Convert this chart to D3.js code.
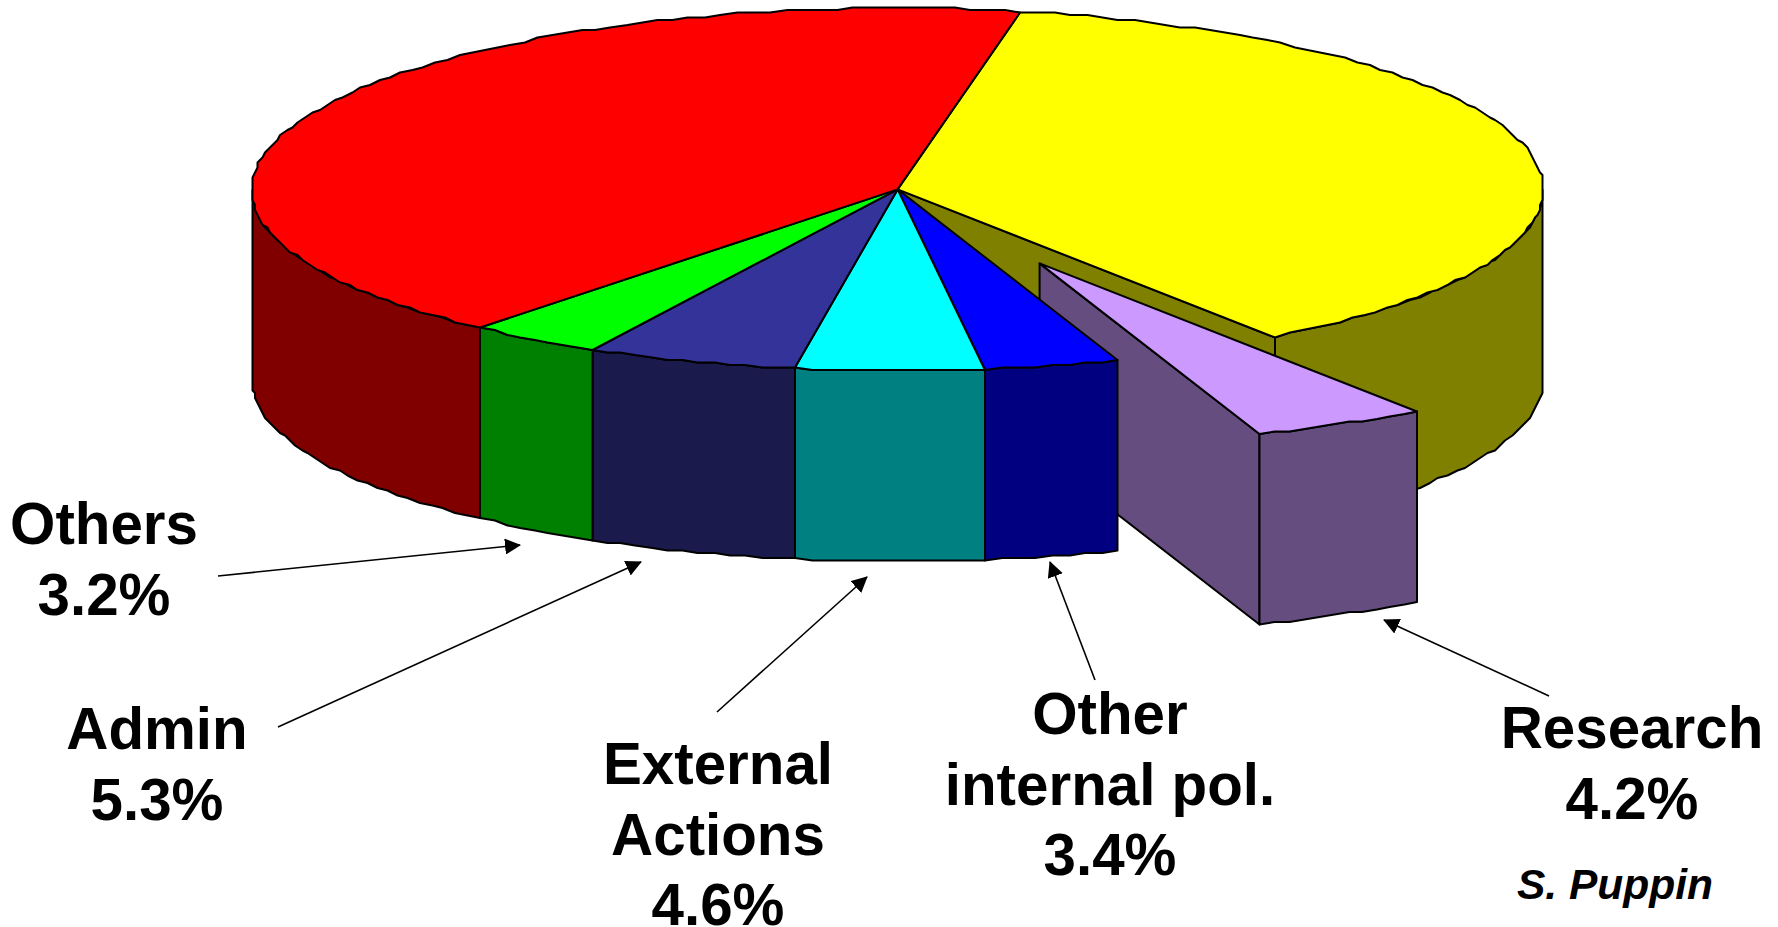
<!DOCTYPE html>
<html>
<head>
<meta charset="utf-8">
<script src="https://cdn.jsdelivr.net/npm/d3@7"></script>
<style>
	html, body { margin: 0; padding: 0; background: #fff; overflow: hidden; }
	text { font-family: "Liberation Sans", Arial, sans-serif; font-weight: bold; fill: #000; }
</style>
</head>
<body>
<div id="chart"></div>
<script>
// shares of the pie, clockwise from the red/yellow border
var categories = ['Structural', 'Research', 'Other internal pol.', 'External Actions', 'Admin', 'Others', 'Agriculture'];
var values = [37.0, 4.4, 3.4, 4.7, 5.3, 3.3, 41.9];
var topColors = ['#ffff00', '#cc99ff', '#0000ff', '#00ffff', '#333399', '#00ff00', '#ff0000'];
var sideColors = ['#808000', '#664d80', '#000080', '#008080', '#1a1a4d', '#008000', '#800000'];

var labelLines = [
	['Others', '3.2%'],
	['Admin', '5.3%'],
	['External', 'Actions', '4.6%'],
	['Other', 'internal pol.', '3.4%'],
	['Research', '4.2%']
];
var labelX = [104, 157, 718, 1110, 1632];
var labelY = [544, 749, 784, 734, 748];
var arrowFrom = [[218, 576], [278, 727], [717, 712], [1095, 680], [1549, 696]];
var arrowTo = [[520, 545], [641, 562], [867, 577], [1050, 562], [1384, 620]];

var width = 1778, height = 927;
var cx = 897.6, cy = 189.4, rx = 645.8, ry = 181.4, depth = 190.5;
var explodeX = 142, explodeY = 74;
var lineHeight = 70.5;
var startDeg = 11;
var grid = 2.5;

var rad = Math.PI / 180;
var x = d3.scaleLinear().domain([-1, 1]).range([cx - rx, cx + rx]);
var y = d3.scaleLinear().domain([-1, 1]).range([cy - ry, cy + ry]);

var pie = d3.pie().sort(null)
	.startAngle(startDeg * rad)
	.endAngle((startDeg + 360) * rad);
var slices = pie(values);

var svg = d3.select('#chart').append('svg')
	.attr('width', width)
	.attr('height', height);

svg.append('defs').append('marker')
	.attr('id', 'head')
	.attr('viewBox', '0 0 16 16')
	.attr('refX', 15)
	.attr('refY', 8)
	.attr('markerWidth', 16)
	.attr('markerHeight', 16)
	.attr('markerUnits', 'userSpaceOnUse')
	.attr('orient', 'auto')
	.append('path')
	.attr('d', 'M0,0L16,8L0,16Z')
	.attr('fill', '#000');

// rim of the disc, a little stepped like the old metafile drawing
function rim(a0, a1) {
	var n = Math.max(1, Math.round(Math.abs(a1 - a0) / (1.5 * rad)));
	return d3.range(n + 1).map(function(i) {
		var a = a0 + (a1 - a0) * i / n;
		return [
			Math.round(x(Math.sin(a)) / grid) * grid,
			Math.round(y(-Math.cos(a)) / grid) * grid
		];
	});
}

var line = d3.line().curve(d3.curveLinearClosed);

function drawPoly(g, points, fill) {
	g.append('path')
		.attr('d', line(points))
		.attr('fill', fill)
		.attr('stroke', '#000')
		.attr('stroke-width', 2)
		.attr('stroke-linejoin', 'round');
}

function drop(points) {
	return points.map(function(p) { return [p[0], p[1] + depth]; });
}

// only the part of the rim facing the viewer gets a wall
function drawWall(g, d, fill) {
	var a0 = Math.max(d.startAngle, 90 * rad);
	var a1 = Math.min(d.endAngle, 270 * rad);
	if (a1 <= a0) return;
	var top = rim(a0, a1);
	drawPoly(g, top.concat(drop(top).reverse()), fill);
}

function drawTop(g, d, fill) {
	drawPoly(g, [[cx, cy]].concat(rim(d.startAngle, d.endAngle)), fill);
}

var yellow = slices[0], research = slices[1];

// yellow first, with the cut face left open by the pulled out slice
var back = svg.append('g').attr('class', 'back');
var cutEnd = rim(yellow.endAngle, yellow.endAngle)[0];
drawWall(back, yellow, sideColors[0]);
drawPoly(back, [[cx, cy], cutEnd, [cutEnd[0], cutEnd[1] + depth], [cx, cy + depth]], sideColors[0]);
drawTop(back, yellow, topColors[0]);

// pulled out slice
var ex = svg.append('g')
	.attr('class', 'research')
	.attr('transform', 'translate(' + explodeX + ',' + explodeY + ')');
var cutStart = rim(research.endAngle, research.endAngle)[0];
drawPoly(ex, [[cx, cy], cutStart, [cutStart[0], cutStart[1] + depth], [cx, cy + depth]], sideColors[1]);
drawWall(ex, research, sideColors[1]);
drawTop(ex, research, topColors[1]);

// rest of the pie, in front of the pulled out slice
var front = svg.append('g').attr('class', 'front');
slices.slice(2).forEach(function(d) {
	drawWall(front, d, sideColors[d.index]);
});
slices.slice(2).forEach(function(d) {
	drawTop(front, d, topColors[d.index]);
});

// labels and arrows
var notes = svg.append('g').attr('class', 'notes');

notes.selectAll('line')
	.data(arrowFrom)
	.enter().append('line')
	.attr('x1', function(d) { return d[0]; })
	.attr('y1', function(d) { return d[1]; })
	.attr('x2', function(d, i) { return arrowTo[i][0]; })
	.attr('y2', function(d, i) { return arrowTo[i][1]; })
	.attr('stroke', '#000')
	.attr('stroke-width', 1.6)
	.attr('marker-end', 'url(#head)');

labelLines.forEach(function(lines, i) {
	lines.forEach(function(t, k) {
		notes.append('text')
			.attr('x', labelX[i])
			.attr('y', labelY[i] + k * lineHeight)
			.attr('text-anchor', 'middle')
			.style('font-size', '58.3px')
			.text(t);
	});
});

notes.append('text')
	.attr('x', 1615)
	.attr('y', 899)
	.attr('text-anchor', 'middle')
	.style('font-size', '42.5px')
	.style('font-style', 'italic')
	.text('S. Puppin');
</script>
</body>
</html>
